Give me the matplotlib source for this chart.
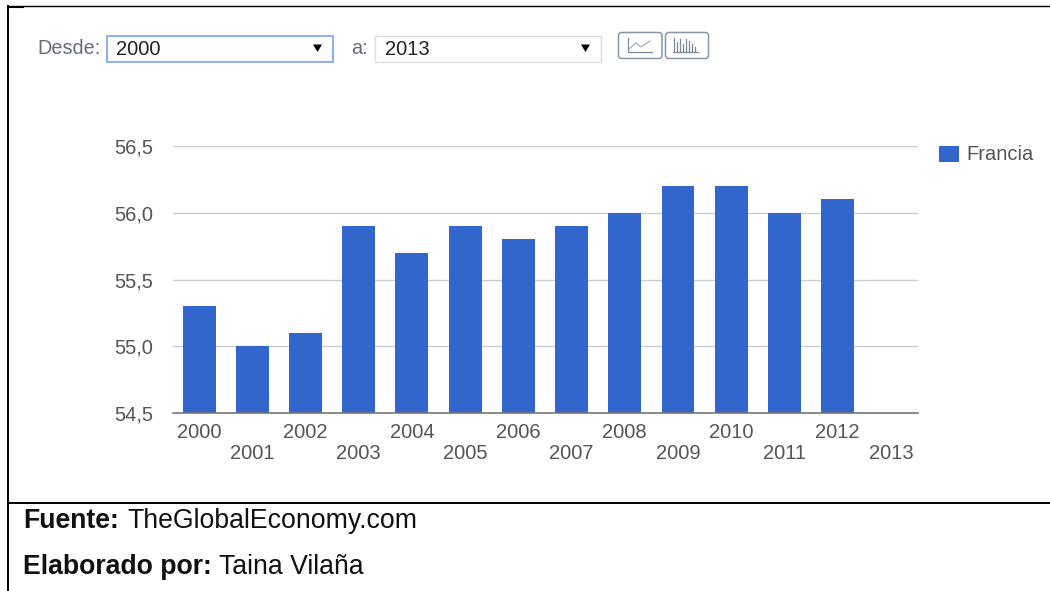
import matplotlib
matplotlib.use("Agg")
import matplotlib.pyplot as plt
from matplotlib.patches import Rectangle, FancyBboxPatch, Polygon

plt.rcParams['font.family'] = ['Liberation Sans', 'DejaVu Sans']

W, H = 1050, 591

years = list(range(2000, 2014))
values = [55.3, 55.0, 55.1, 55.9, 55.7, 55.9, 55.8, 55.9, 56.0, 56.2, 56.2, 56.0, 56.1, None]
y_ticks = [54.5, 55.0, 55.5, 56.0, 56.5]
y_labels = ['54,5', '55,0', '55,5', '56,0', '56,5']
series_name = 'Francia'

BLUE = '#3366cc'
GREY_TEXT = '#555555'

fig = plt.figure(figsize=(W / 100, H / 100), dpi=100, facecolor='white')

# page layer in pixel coordinates: borders, form controls, caption
page = fig.add_axes([0, 0, 1, 1])
page.set_xlim(0, W)
page.set_ylim(H, 0)
page.axis('off')

page.plot([8, W], [6, 6], color='black', lw=1.0)
page.plot([8, 23], [6.5, 6.5], color='black', lw=1.5)
page.plot([8, 8], [6, H], color='black', lw=1.4)
page.plot([8, W], [503, 503], color='black', lw=1.4)


def select_box(x0, x1, label, edge, lw):
    page.add_patch(Rectangle((x0, 35.5), x1 - x0, 26.5, fc='white', ec=edge, lw=lw))
    page.text(x0 + 9.5, 55, label, fontsize=14.5, color='#222222', va='baseline')
    ax_ = x1 - 15
    page.add_patch(Polygon([(ax_ - 4.5, 44.5), (ax_ + 4.5, 44.5), (ax_, 52)], fc='black', ec='none'))


page.text(37, 54.5, 'Desde:', fontsize=14.3, color='#666c78', va='baseline')
select_box(106.5, 332.5, '2000', '#8fb0ee', 1.4)
page.text(351, 54.5, 'a:', fontsize=14.3, color='#666c78', va='baseline')
select_box(375, 600.5, '2013', '#dddddd', 1.0)

# line / bar chart toggle buttons
for bx0, bx1 in [(618.5, 662), (665.5, 708.5)]:
    page.add_patch(FancyBboxPatch((bx0, 32.5), bx1 - bx0, 26,
                                  boxstyle='round,pad=0,rounding_size=3',
                                  fc='white', ec='#8a97a8', lw=1.1))
page.plot([628, 628, 652], [38, 52, 52], color='#7d8a9c', lw=0.9)
page.plot([629, 636, 641, 650], [49, 43, 47, 41], color='#9aa6b6', lw=0.8)
page.plot([673, 698], [52, 52], color='#7d8a9c', lw=0.9)
for tx, top in zip(range(674, 697, 3), [38, 42, 39, 44, 39, 41, 44, 47]):
    page.plot([tx, tx], [top, 52], color='#7d8a9c', lw=0.9)

page.text(23, 528, 'Fuente:', fontsize=19.2, fontweight='bold', color='#111111', va='baseline')
page.text(127, 528, 'TheGlobalEconomy.com', fontsize=19.2, color='#111111', va='baseline')
page.text(23, 573.5, 'Elaborado por:', fontsize=19.2, fontweight='bold', color='#111111', va='baseline')
page.text(219, 573.5, 'Taina Vilaña', fontsize=19.2, color='#111111', va='baseline')

# chart area, 173..918 px wide and 146..413 px tall
ax = fig.add_axes([173 / W, 1 - 413 / H, (918 - 173) / W, (413 - 146) / H])
ax.patch.set_alpha(0)
positions = [i for i, v in enumerate(values) if v is not None]
heights = [values[i] for i in positions]
ax.bar(positions, heights, width=0.62, color=BLUE, zorder=3)
ax.set_xlim(-0.49, len(years) - 0.49)
ax.set_ylim(y_ticks[0], y_ticks[-1])

ax.set_yticks(y_ticks, y_labels)
ax.tick_params(axis='y', length=0, pad=14.5, labelsize=14.5, labelcolor=GREY_TEXT)
ax.grid(axis='y', color='#cccccc', lw=1, zorder=0)
ax.set_axisbelow(True)

# year labels are staggered on two rows
ax.set_xticks(range(len(years)), [str(y) if i % 2 == 0 else '\n' + str(y) for i, y in enumerate(years)])
ax.tick_params(axis='x', length=0, pad=7, labelsize=14.5, labelcolor=GREY_TEXT)
for lab in ax.get_xticklabels():
    lab.set_linespacing(1.15)

for side in ['top', 'right', 'left']:
    ax.spines[side].set_visible(False)
ax.spines['bottom'].set_color('#777777')
ax.spines['bottom'].set_linewidth(1.2)
ax.spines['bottom'].set_zorder(4)

# legend entry to the right of the plot
page.add_patch(Rectangle((939, 145.5), 20, 16.5, fc=BLUE, ec='none'))
page.text(966.5, 159.5, series_name, fontsize=14.5, color=GREY_TEXT, va='baseline')

fig.savefig('out.png', dpi=100)
